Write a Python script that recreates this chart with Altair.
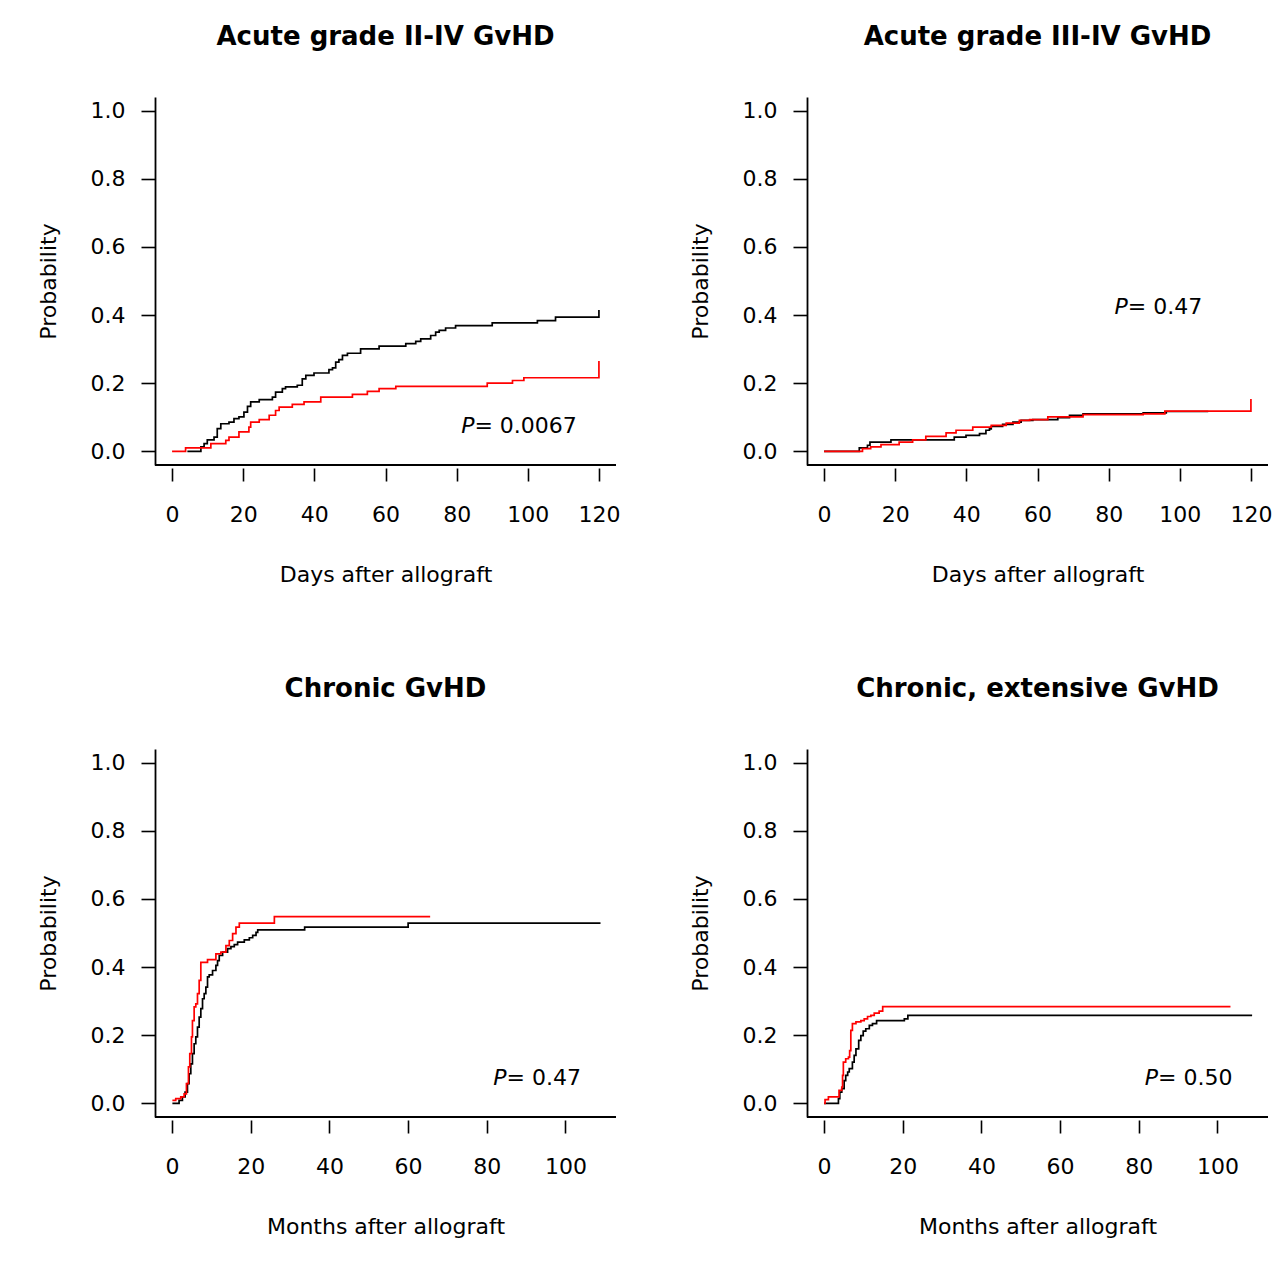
import altair as alt
import pandas as pd

FONT = "DejaVu Sans"
W, H = 461, 368

# ---------- Panel 1: Acute grade II-IV GvHD (days) ----------
p1_black_t = [4.3, 8.1, 9.0, 9.9, 11.8, 12.7, 13.7, 16.0, 17.4, 18.8, 20.2, 21.2, 22.1, 24.5, 28.2,
              29.1, 31.0, 31.9, 35.2, 36.6, 37.6, 39.9, 44.1, 45.1, 46.0, 46.9, 47.9, 49.3, 53.0,
              58.2, 65.7, 68.5, 69.9, 72.7, 74.1, 75.1, 76.9, 79.7, 90.0, 102.7, 107.8, 120.0, 120.0]
p1_black_p = [0.0, 0.013, 0.023, 0.034, 0.042, 0.067, 0.081, 0.086, 0.096, 0.101, 0.115, 0.132, 0.145,
              0.152, 0.159, 0.174, 0.184, 0.189, 0.194, 0.213, 0.223, 0.230, 0.240, 0.245, 0.262,
              0.269, 0.282, 0.288, 0.301, 0.309, 0.316, 0.323, 0.330, 0.340, 0.350, 0.355, 0.362,
              0.369, 0.377, 0.384, 0.394, 0.394, 0.415]
p1_red_t = [0.0, 3.8, 10.9, 15.1, 16.0, 18.8, 21.6, 22.1, 24.5, 27.3, 29.1, 30.1, 33.8, 37.1, 41.8,
            50.7, 54.9, 58.2, 62.9, 88.6, 95.7, 98.9, 120.0, 120.0]
p1_red_p = [0.0, 0.010, 0.023, 0.032, 0.042, 0.057, 0.071, 0.086, 0.093, 0.106, 0.120, 0.130, 0.138,
            0.145, 0.159, 0.167, 0.176, 0.184, 0.191, 0.200, 0.208, 0.216, 0.216, 0.265]

# ---------- Panel 2: Acute grade III-IV GvHD (days) ----------
p2_black_t = [0.0, 9.9, 12.2, 12.9, 18.8, 36.6, 39.9, 43.7, 45.5, 46.5, 47.0, 50.2, 53.1, 55.4, 58.7,
              65.7, 69.0, 72.8, 89.7, 96.2, 108.0]
p2_black_p = [0.0, 0.010, 0.018, 0.027, 0.034, 0.042, 0.047, 0.052, 0.062, 0.066, 0.073, 0.079, 0.086,
              0.091, 0.093, 0.099, 0.106, 0.110, 0.113, 0.117, 0.117]
p2_red_t = [0.0, 10.8, 13.1, 16.0, 21.1, 24.9, 28.6, 34.3, 37.1, 41.8, 47.0, 51.2, 54.9, 57.8, 62.9,
            72.8, 89.7, 95.8, 120.0, 120.0]
p2_red_p = [0.0, 0.008, 0.013, 0.020, 0.027, 0.034, 0.044, 0.054, 0.062, 0.071, 0.076, 0.083, 0.091,
            0.093, 0.101, 0.108, 0.110, 0.118, 0.118, 0.154]

# ---------- Panel 3: Chronic GvHD (months) ----------
p3_black_t = [0.08, 1.78, 2.63, 3.31, 3.91, 4.33, 4.76, 5.18, 5.61, 6.03, 6.46, 6.89, 7.31, 7.74, 8.16,
              8.59, 9.01, 9.44, 10.29, 11.14, 11.56, 11.99, 12.84, 14.11, 14.96, 15.81, 16.66, 18.36,
              19.64, 20.49, 21.34, 21.77, 33.7, 60.0, 108.9]
p3_black_p = [0.0, 0.009, 0.019, 0.033, 0.058, 0.087, 0.116, 0.146, 0.175, 0.195, 0.224, 0.253, 0.278,
              0.307, 0.322, 0.341, 0.371, 0.377, 0.390, 0.405, 0.419, 0.434, 0.444, 0.454, 0.460,
              0.466, 0.473, 0.480, 0.486, 0.493, 0.502, 0.509, 0.517, 0.529, 0.529]
p3_red_t = [0.08, 0.93, 2.21, 3.06, 3.65, 4.16, 4.50, 4.93, 5.18, 5.61, 6.03, 6.46, 6.89, 7.31, 9.01,
            11.14, 12.41, 13.69, 14.54, 15.39, 16.24, 17.09, 26.0, 65.6]
p3_red_p = [0.009, 0.014, 0.019, 0.028, 0.058, 0.107, 0.146, 0.195, 0.243, 0.283, 0.292, 0.322, 0.361,
            0.414, 0.422, 0.439, 0.444, 0.463, 0.478, 0.498, 0.517, 0.529, 0.548, 0.548]

# ---------- Panel 4: Chronic, extensive GvHD (months) ----------
p4_black_t = [0.0, 3.65, 4.0, 4.5, 5.1, 5.5, 6.0, 6.4, 7.2, 7.65, 8.1, 8.8, 9.35, 9.95, 10.6, 11.5,
              12.3, 13.35, 20.4, 21.3, 108.8]
p4_black_p = [0.0, 0.014, 0.033, 0.043, 0.067, 0.082, 0.092, 0.102, 0.121, 0.141, 0.160, 0.185, 0.199,
              0.212, 0.219, 0.229, 0.234, 0.243, 0.248, 0.258, 0.258]
p4_red_t = [0.0, 0.25, 1.1, 3.8, 4.5, 4.7, 4.9, 5.5, 6.2, 6.5, 6.8, 7.2, 8.1, 9.35, 10.2, 11.05, 11.9,
            12.75, 14.0, 14.9, 103.3]
p4_red_p = [0.0, 0.011, 0.019, 0.038, 0.048, 0.082, 0.121, 0.131, 0.136, 0.155, 0.214, 0.234, 0.239,
            0.243, 0.248, 0.255, 0.258, 0.265, 0.271, 0.284, 0.284]

titles = ["Acute grade II-IV GvHD", "Acute grade III-IV GvHD", "Chronic GvHD", "Chronic, extensive GvHD"]
x_titles = ["Days after allograft", "Days after allograft", "Months after allograft", "Months after allograft"]
day_ticks = [0, 20, 40, 60, 80, 100, 120]
month_ticks = [0, 20, 40, 60, 80, 100]
y_ticks = [0.0, 0.2, 0.4, 0.6, 0.8, 1.0]
p_values = ["0.0067", "0.47", "0.47", "0.50"]
p_pos_t = [85.0, 85.4, 85.0, 84.9]
p_pos_p = [0.053, 0.402, 0.053, 0.053]


def curve_df(t, p):
    return pd.DataFrame({"t": t, "p": p, "i": list(range(len(t)))})


def panel(k, xdom, xticks, bt, bp, rt, rp):
    xenc = alt.X("t:Q", scale=alt.Scale(domain=xdom, nice=False, zero=False),
                 axis=alt.Axis(values=xticks, format="d", domain=False, offset=3, tickSize=13,
                               tickWidth=1.6, labelPadding=23, title=x_titles[k], titlePadding=39,
                               grid=False))
    yenc = alt.Y("p:Q", scale=alt.Scale(domain=[-0.04, 1.04], nice=False, zero=False),
                 axis=alt.Axis(values=y_ticks, format=".1f", domain=True, domainWidth=1.8,
                               tickSize=14, tickWidth=1.6, labelPadding=16, title="Probability",
                               titlePadding=30, grid=False))
    frame = alt.Chart(pd.DataFrame({"t": [0]})).mark_rule(color="black", strokeWidth=1.8).encode(
        x=alt.value(0), x2=alt.value(W), y=alt.value(H))
    black = alt.Chart(curve_df(bt, bp)).mark_line(
        interpolate="step-after", color="black", strokeWidth=1.7).encode(
        x=xenc, y=yenc, order="i:Q")
    red = alt.Chart(curve_df(rt, rp)).mark_line(
        interpolate="step-after", color="#ff0000", strokeWidth=1.7).encode(
        x=xenc, y=yenc, order="i:Q")
    tdf = pd.DataFrame({"t": [p_pos_t[k]], "p": [p_pos_p[k]]})
    pit = alt.Chart(tdf).mark_text(text="P", font=FONT, fontSize=22, fontStyle="italic",
                                   align="right", baseline="alphabetic", color="black").encode(
        x=xenc, y=yenc)
    rest = alt.Chart(tdf).mark_text(text="= " + p_values[k], font=FONT, fontSize=22,
                                    align="left", baseline="alphabetic", color="black").encode(
        x=xenc, y=yenc)
    return alt.layer(frame, black, red, pit, rest).properties(
        width=W, height=H,
        title=alt.TitleParams(titles[k], font=FONT, fontSize=26, fontWeight="bold",
                              anchor="middle", offset=47, color="black"))


c1 = panel(0, [-4.8, 124.8], day_ticks, p1_black_t, p1_black_p, p1_red_t, p1_red_p)
c2 = panel(1, [-4.8, 124.8], day_ticks, p2_black_t, p2_black_p, p2_red_t, p2_red_p)
c3 = panel(2, [-4.34, 112.84], month_ticks, p3_black_t, p3_black_p, p3_red_t, p3_red_p)
c4 = panel(3, [-4.34, 112.84], month_ticks, p4_black_t, p4_black_p, p4_red_t, p4_red_p)

chart = alt.concat(c1, c2, c3, c4, columns=2, spacing={"row": 284, "column": 191},
                   bounds="flush").properties(
    padding={"left": 29, "top": 16, "right": 0, "bottom": 6}
).configure_view(stroke=None).configure_axis(
    labelFont=FONT, titleFont=FONT, labelFontSize=22, titleFontSize=22, labelColor="black",
    titleColor="black", tickColor="black", domainColor="black", titleFontWeight="normal",
    labelFlush=False, labelOverlap=False
)

chart.save("out.html", embed_options={"renderer": "svg", "actions": False})
